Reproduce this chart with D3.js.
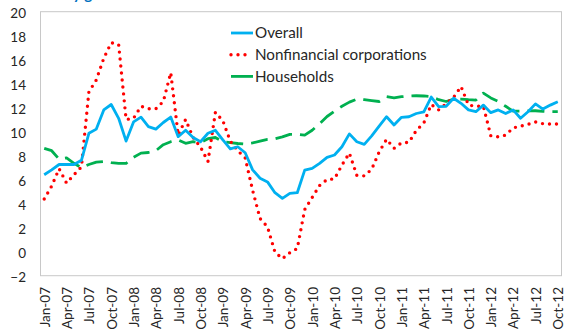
<!DOCTYPE html>
<html>
<head>
<meta charset="utf-8">
<script src="https://cdn.jsdelivr.net/npm/d3@7"></script>
<style>
  html, body { margin: 0; padding: 0; background: #fff; }
  svg { display: block; }
  text { font-family: Lato, "Open Sans", sans-serif; fill: #262626; }
</style>
</head>
<body>
<svg id="chart" width="565" height="332"></svg>
<script>
// Monthly growth rates, Jan-07 .. Oct-12 (percent)
const startMonth = new Date(2007, 0, 1);
const endMonth = new Date(2012, 10, 1);
const months = d3.timeMonth.range(startMonth, endMonth);

const overall = [
  6.5, 6.9, 7.35, 7.35, 7.35, 7.7, 9.95, 10.3, 11.9, 12.35, 11.2, 9.3,
  10.9, 11.3, 10.5, 10.3, 10.85, 11.3, 9.67, 10.2, 9.6, 9.25, 9.95, 10.2,
  9.4, 8.65, 8.83, 8.33, 6.9, 6.2, 5.9, 5.0, 4.53, 4.95, 5.0, 6.88,
  7.03, 7.45, 7.95, 8.14, 8.83, 9.9, 9.25, 9.03, 9.73, 10.55, 11.33, 10.64,
  11.28, 11.33, 11.6, 11.73, 12.97, 12.17, 12.2, 12.87, 12.45, 11.9, 11.75, 12.3,
  11.67, 11.9, 11.6, 11.9, 11.2, 11.75, 12.4, 11.97, 12.3, 12.58
];

const nonfinancial = [
  4.47, 5.55, 7.0, 5.8, 6.5, 7.15, 13.4, 14.4, 16.2, 17.5, 17.35, 11.1,
  11.2, 12.2, 12.0, 12.0, 12.6, 15.0, 9.8, 11.1, 9.6, 8.8, 7.6, 11.7,
  11.0, 9.3, 8.5, 7.9, 5.2, 2.85, 2.15, 0.05, -0.5, 0.0, 0.35, 3.6,
  4.6, 5.6, 6.1, 6.15, 7.3, 8.3, 6.45, 6.4, 6.95, 8.4, 9.45, 8.7,
  9.15, 9.2, 10.2, 10.8, 12.35, 11.9, 12.4, 12.95, 13.85, 12.3, 12.2, 12.2,
  9.75, 9.65, 9.8, 10.4, 10.55, 10.7, 10.9, 10.75, 10.72, 10.72
];

const households = [
  8.7, 8.5, 7.8, 7.9, 7.45, 7.08, 7.35, 7.55, 7.6, 7.5, 7.45, 7.45,
  7.95, 8.3, 8.35, 8.5, 9.0, 9.25, 9.4, 9.12, 9.25, 9.17, 9.5, 9.6,
  9.25, 9.17, 9.1, 9.05, 9.15, 9.3, 9.45, 9.5, 9.65, 9.86, 9.86, 9.8,
  10.2, 10.75, 11.35, 11.8, 12.2, 12.55, 12.8, 12.75, 12.67, 12.6, 13.0, 12.9,
  13.0, 13.05, 13.08, 13.06, 13.0, 12.75, 12.6, 12.8, 12.8, 12.75, 12.72, 13.3,
  12.9, 12.6, 12.2, 11.8, 11.8, 11.82, 11.83, 11.78, 11.75, 11.75
];

const seriesNames = ["Overall", "Nonfinancial corporations", "Households"];
const yTicks = [-2, 0, 2, 4, 6, 8, 10, 12, 14, 16, 18, 20];
const xTickLabels = [
  "Jan-07", "Apr-07", "Jul-07", "Oct-07", "Jan-08", "Apr-08", "Jul-08", "Oct-08",
  "Jan-09", "Apr-09", "Jul-09", "Oct-09", "Jan-10", "Apr-10", "Jul-10", "Oct-10",
  "Jan-11", "Apr-11", "Jul-11", "Oct-11", "Jan-12", "Apr-12", "Jul-12", "Oct-12"
];
const title = "Yearly growth";

const fmt = d3.timeFormat("%b-%y");
const cats = months.map(fmt);

const svg = d3.select("#chart");
const plotLeft = 40.5, plotRight = 561.5, plotTop = 11.7, plotBottom = 275.7;

const x = d3.scalePoint().domain(cats).range([plotLeft, plotRight]).padding(0.5);
const y = d3.scaleLinear().domain([-2, 20]).range([plotBottom + 1, plotTop + 1]);

// Title (sits mostly above the drawing area)
svg.append("text")
  .attr("x", 40).attr("y", -1.5)
  .style("font-size", "15px").style("font-weight", "bold")
  .style("fill", "#0070C0")
  .text(title);

// Plot frame
svg.append("rect")
  .attr("x", plotLeft).attr("y", plotTop)
  .attr("width", plotRight - plotLeft).attr("height", plotBottom - plotTop)
  .attr("fill", "none").attr("stroke", "#C8C8C8").attr("stroke-width", 1);

// Y axis labels
const yAxis = d3.axisLeft(y).tickValues(yTicks).tickSize(0).tickPadding(0);
svg.append("g")
  .attr("transform", `translate(${26},0)`)
  .call(yAxis)
  .call(g => g.select(".domain").remove())
  .call(g => g.selectAll("text")
    .style("font-size", "13.5px").style("fill", "#262626")
    .style("font-family", "Lato, sans-serif"));

// X axis labels (rotated)
const xAxis = d3.axisBottom(x).tickValues(xTickLabels).tickSize(0).tickPadding(0);
svg.append("g")
  .attr("transform", `translate(0,${287})`)
  .call(xAxis)
  .call(g => g.select(".domain").remove())
  .call(g => g.selectAll("text")
    .attr("transform", "rotate(-90)")
    .attr("text-anchor", "end")
    .attr("x", 0).attr("y", 0).attr("dy", "0.36em")
    .style("font-size", "13.5px").style("fill", "#262626")
    .style("font-family", "Lato, sans-serif"));

const line = d3.line()
  .x((d, i) => x(cats[i]))
  .y(d => y(d));

const styles = [
  { data: overall, color: "#00B0F0", width: 2.8, dash: null, cap: "butt" },
  { data: nonfinancial, color: "#FF0000", width: 3.4, dash: "0,7", cap: "round" },
  { data: households, color: "#00B050", width: 2.8, dash: "17,8", cap: "butt" }
];

// Draw households first, then corporations, overall on top
[2, 1, 0].forEach(k => {
  const s = styles[k];
  svg.append("path")
    .datum(s.data)
    .attr("fill", "none")
    .attr("stroke", s.color)
    .attr("stroke-width", s.width)
    .attr("stroke-linejoin", "round")
    .attr("stroke-linecap", s.cap)
    .attr("stroke-dasharray", s.dash)
    .attr("d", line);
});

// Legend
const legend = svg.append("g");
seriesNames.forEach((name, k) => {
  const s = styles[k];
  const ly = 33 + k * 21.7;
  legend.append("line")
    .attr("x1", 231).attr("x2", k === 1 ? 252 : 253)
    .attr("y1", ly).attr("y2", ly)
    .attr("stroke", s.color).attr("stroke-width", s.width)
    .attr("stroke-linecap", s.cap)
    .attr("stroke-dasharray", k === 2 ? "22,0" : s.dash);
  legend.append("text")
    .attr("x", 255).attr("y", ly).attr("dy", "0.36em")
    .style("font-size", "15.2px")
    .text(name);
});
</script>
</body>
</html>
